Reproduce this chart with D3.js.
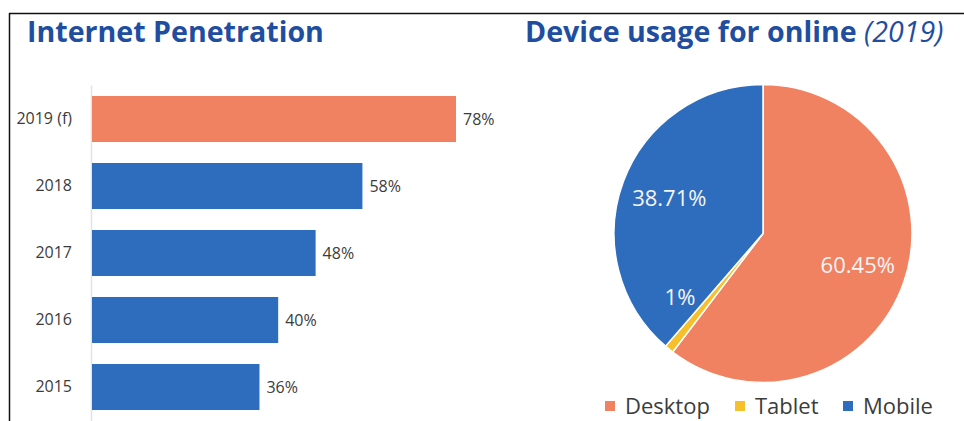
<!DOCTYPE html>
<html>
<head>
<meta charset="utf-8">
<script src="https://cdn.jsdelivr.net/npm/d3@7"></script>
<style>
  html, body { margin: 0; padding: 0; background: #fff; }
  svg { display: block; font-family: "Open Sans", "Noto Sans", sans-serif; }
</style>
</head>
<body>
<svg id="chart" width="964" height="421"></svg>
<script>
// Internet penetration by year
const years = ["2019 (f)", "2018", "2017", "2016", "2015"];
const penetration = [78, 58, 48, 40, 36];

// Device share for going online, 2019
const devices = ["Desktop", "Tablet", "Mobile"];
const deviceShare = [60.45, 1, 38.71];
const deviceLabels = ["60.45%", "1%", "38.71%"];

const ORANGE = "#f08262";
const BLUE = "#2e6dbd";
const YELLOW = "#f5c02c";
const TITLE = "#1f4ea1";
const TEXT = "#3c3c3c";

const svg = d3.select("#chart");

// frame lines
svg.append("line").attr("x1", 9.5).attr("x2", 9.5).attr("y1", 13).attr("y2", 421)
  .attr("stroke", "#111").attr("stroke-width", 1.5);
svg.append("line").attr("x1", 9).attr("x2", 964).attr("y1", 13.5).attr("y2", 13.5)
  .attr("stroke", "#111").attr("stroke-width", 1.5);

// ---------- bar chart ----------
svg.append("text").attr("x", 27).attr("y", 42)
  .attr("font-size", 28.6).attr("font-weight", 700).attr("fill", TITLE)
  .text("Internet Penetration");

const x = d3.scaleLinear().domain([0, 78]).range([91, 456]);
const y = d3.scaleBand().domain(years).range([85, 421])
  .paddingInner(0.313).paddingOuter(0.164);

const yAxis = svg.append("g").attr("transform", `translate(${x(0)},0)`)
  .call(d3.axisLeft(y).tickSize(0).tickPadding(19));
yAxis.select(".domain").attr("stroke", "#e3e3e3").attr("stroke-width", 1.5);
yAxis.selectAll("text").attr("font-size", 16).attr("fill", TEXT)
  .attr("font-family", "'Open Sans', sans-serif");

const barData = years.map((c, i) => ({ c, v: penetration[i], i }));
svg.selectAll("rect.bar").data(barData).join("rect")
  .attr("class", "bar")
  .attr("x", x(0) + 1)
  .attr("y", d => y(d.c))
  .attr("width", d => x(d.v) - x(0) - 1)
  .attr("height", y.bandwidth())
  .attr("fill", d => d.i === 0 ? ORANGE : BLUE);

svg.selectAll("text.val").data(barData).join("text")
  .attr("class", "val")
  .attr("x", d => x(d.v) + 7)
  .attr("y", d => y(d.c) + y.bandwidth() / 2)
  .attr("dy", "0.35em")
  .attr("font-size", 16).attr("fill", TEXT)
  .text(d => d.v + "%");

// ---------- pie chart ----------
const title2 = svg.append("text").attr("x", 525).attr("y", 42)
  .attr("font-size", 28.6).attr("fill", TITLE);
title2.append("tspan").attr("font-weight", 700).text("Device usage for online ");
title2.append("tspan").attr("font-style", "italic").attr("font-weight", 400).text("(2019)");

const cx = 763, cy = 233.5, r = 149;
const colors = d3.scaleOrdinal().domain(devices).range([ORANGE, YELLOW, BLUE]);
const pie = d3.pie().sort(null).value(d => d.v);
const slices = pie(devices.map((d, i) => ({ d, v: deviceShare[i], label: deviceLabels[i] })));
const arc = d3.arc().innerRadius(0).outerRadius(r);

const pg = svg.append("g").attr("transform", `translate(${cx},${cy})`);
pg.selectAll("path").data(slices).join("path")
  .attr("d", arc)
  .attr("fill", d => colors(d.data.d))
  .attr("stroke", "#fff").attr("stroke-width", 1.5);

const labelR = 100;
pg.selectAll("text").data(slices).join("text")
  .attr("transform", d => {
    let a = (d.startAngle + d.endAngle) / 2;
    const sliver = d.endAngle - d.startAngle < 0.1;
    // a sliver's label is nudged clear of the slice edge
    if (sliver) a += 0.23;
    const rr = sliver ? 105 : labelR;
    return `translate(${Math.sin(a) * rr},${-Math.cos(a) * rr})`;
  })
  .attr("text-anchor", "middle").attr("dy", "0.35em")
  .attr("font-size", 22).attr("fill", "#f4f4f4")
  .text(d => d.data.label);

// legend
const legendX = [605, 735, 843];
const lg = svg.append("g");
devices.forEach((d, i) => {
  lg.append("rect").attr("x", legendX[i]).attr("y", 401).attr("width", 10).attr("height", 10)
    .attr("fill", colors(d));
  lg.append("text").attr("x", legendX[i] + 20).attr("y", 414)
    .attr("font-size", 22).attr("fill", TEXT).text(d);
});
</script>
</body>
</html>
